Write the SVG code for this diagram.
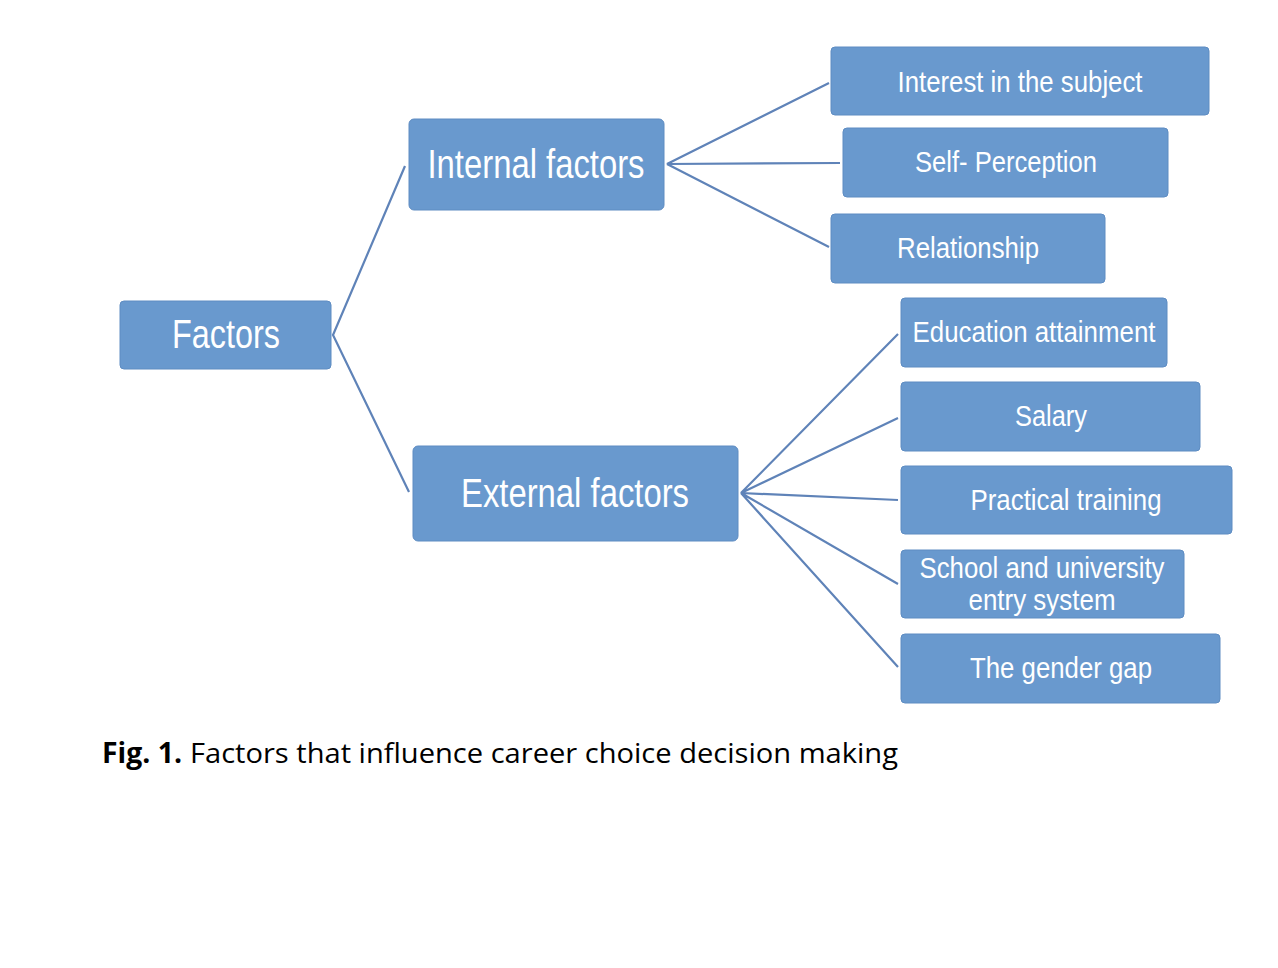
<svg xmlns="http://www.w3.org/2000/svg" width="1278" height="968" viewBox="0 0 1278 968">
<style>
.box{fill:#6999CE;stroke:#5E8CC2;stroke-width:1}
.lbl{font-family:"Liberation Sans",Arial,sans-serif;fill:#ffffff;text-anchor:middle}
.big{font-size:40px}
.sm{font-size:30px}
.con{stroke:#5F83B8;stroke-width:2.2;fill:none}
.cap{font-family:"Open Sans","Noto Sans",sans-serif;font-size:28px;fill:#000}
</style>
<rect width="1278" height="968" fill="#ffffff"/>
<g id="connectors">
<path class="con" d="M405,166 L333,335 L409,492"/>
<path class="con" d="M829,83 L667,164 L840,163 M667,164 L829,247"/>
<path class="con" d="M898,334 L741,493 L898,418 M741,493 L898,500 M741,493 L898,584 M741,493 L898,667"/>
</g>
<g id="factors">
<rect class="box" x="120" y="301" width="211" height="68" rx="4"/>
<text class="lbl big" x="226" y="348" textLength="108" lengthAdjust="spacingAndGlyphs">Factors</text>
</g>
<g id="internal">
<rect class="box" x="409" y="119" width="255" height="91" rx="5"/>
<text class="lbl big" x="536" y="178" textLength="217" lengthAdjust="spacingAndGlyphs">Internal factors</text>
</g>
<g id="external">
<rect class="box" x="413" y="446" width="325" height="95" rx="5"/>
<text class="lbl big" x="575" y="507" textLength="228" lengthAdjust="spacingAndGlyphs">External factors</text>
</g>
<g id="interest">
<rect class="box" x="831" y="47" width="378" height="68" rx="4"/>
<text class="lbl sm" x="1020" y="92" textLength="245" lengthAdjust="spacingAndGlyphs">Interest in the subject</text>
</g>
<g id="self">
<rect class="box" x="843" y="128" width="325" height="69" rx="4"/>
<text class="lbl sm" x="1006" y="172" textLength="182" lengthAdjust="spacingAndGlyphs">Self- Perception</text>
</g>
<g id="relationship">
<rect class="box" x="831" y="214" width="274" height="69" rx="4"/>
<text class="lbl sm" x="968" y="258" textLength="142" lengthAdjust="spacingAndGlyphs">Relationship</text>
</g>
<g id="education">
<rect class="box" x="901" y="298" width="266" height="69" rx="4"/>
<text class="lbl sm" x="1034" y="342" textLength="243" lengthAdjust="spacingAndGlyphs">Education attainment</text>
</g>
<g id="salary">
<rect class="box" x="901" y="382" width="299" height="69" rx="4"/>
<text class="lbl sm" x="1051" y="426" textLength="72" lengthAdjust="spacingAndGlyphs">Salary</text>
</g>
<g id="practical">
<rect class="box" x="901" y="466" width="331" height="68" rx="4"/>
<text class="lbl sm" x="1066" y="510" textLength="191" lengthAdjust="spacingAndGlyphs">Practical training</text>
</g>
<g id="school">
<rect class="box" x="901" y="550" width="283" height="68" rx="4"/>
<text class="lbl sm" x="1042" y="578" textLength="245" lengthAdjust="spacingAndGlyphs">School and university</text>
<text class="lbl sm" x="1042" y="610" textLength="147" lengthAdjust="spacingAndGlyphs">entry system</text>
</g>
<g id="gender">
<rect class="box" x="901" y="634" width="319" height="69" rx="4"/>
<text class="lbl sm" x="1061" y="678" textLength="182" lengthAdjust="spacingAndGlyphs">The gender gap</text>
</g>
<text class="cap" x="102" y="763"><tspan font-weight="bold" textLength="80" lengthAdjust="spacingAndGlyphs">Fig. 1.</tspan><tspan x="190" textLength="708" lengthAdjust="spacingAndGlyphs">Factors that influence career choice decision making</tspan></text>
</svg>
